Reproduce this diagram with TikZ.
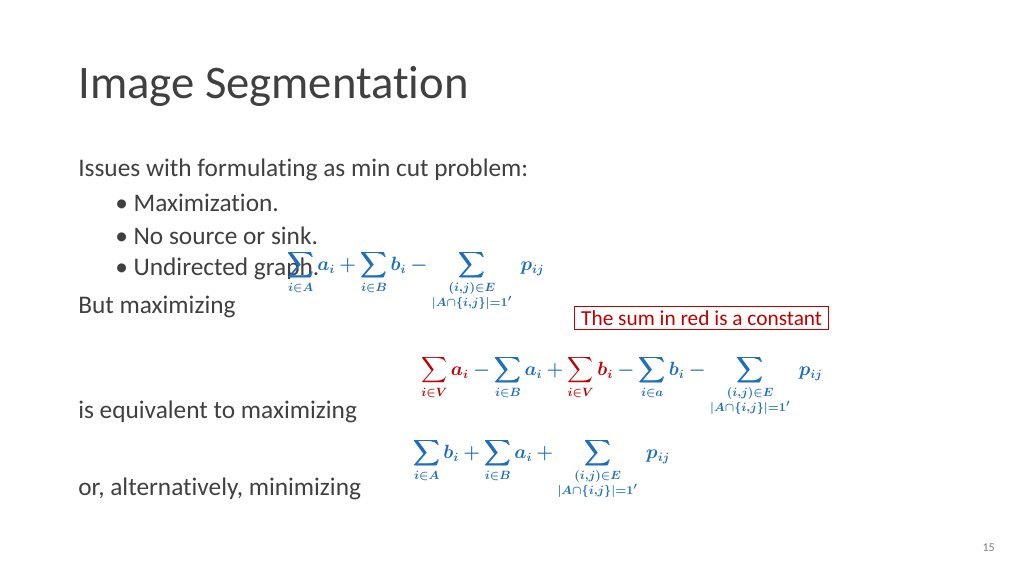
\documentclass[tikz,border=0pt]{standalone}
\usepackage{amsmath,amssymb,bm}
\usepackage{fontspec}
\setmainfont[RawFeature=-liga]{Carlito}
\definecolor{mblue}{RGB}{30,110,190}
\definecolor{mred}{RGB}{192,0,0}
\definecolor{tgray}{RGB}{64,64,64}
\begin{document}
\begin{tikzpicture}[x=0.75pt,y=-0.75pt,
  body/.style={anchor=west,inner sep=0,text=tgray,font=\fontsize{19}{22}\selectfont},
  eq/.style={anchor=west,inner sep=0,text=mblue,font=\fontsize{13.5}{16}\selectfont}]
\useasboundingbox[fill=white] (0,0) rectangle (1024,576);
\node[anchor=west,inner sep=0,text=tgray,font=\fontsize{35}{40}\selectfont] (title) at (78,86) {Image Segmentation};
\node[body] (l1) at (78,170) {Issues with formulating as min cut problem:};
\node[body] (l2) at (115,203) {\textbullet\ Maximization.};
\node[body] (l3) at (115,236) {\textbullet\ No source or sink.};
\node[body] (l4) at (115,269) {\textbullet\ Undirected graph.};
\node[body] (l5) at (78,307) {But maximizing};
\node[body] (l6) at (78,412) {is equivalent to maximizing};
\node[body] (l7) at (78,489) {or, alternatively, minimizing};
\node[eq] (f1) at (287,281) {$\displaystyle\boldsymbol{\sum_{i\in A} a_i + \sum_{i\in B} b_i - \sum_{\substack{(i,j)\in E\\ |A\cap\{i,j\}|=1'}} \; p_{ij}}$};
\node[draw=mred,thick,text=mred,inner xsep=5pt,inner ysep=3pt,anchor=west,font=\fontsize{16}{18}\selectfont] (box) at (574,318) {The sum in red is a constant};
\node[eq] (f2) at (421,386) {$\displaystyle\boldsymbol{\textcolor{mred}{\sum_{i\in V} a_i} - \sum_{i\in B} a_i + \textcolor{mred}{\sum_{i\in V} b_i} - \sum_{i\in a} b_i - \sum_{\substack{(i,j)\in E\\ |A\cap\{i,j\}|=1'}} \; p_{ij}}$};
\node[eq] (f3) at (413,469) {$\displaystyle\boldsymbol{\sum_{i\in A} b_i + \sum_{i\in B} a_i + \sum_{\substack{(i,j)\in E\\ |A\cap\{i,j\}|=1'}} \; p_{ij}}$};
\node[anchor=east,inner sep=0,text=gray,font=\fontsize{9}{10}\selectfont] (pg) at (995,548) {15};
\end{tikzpicture}
\end{document}
